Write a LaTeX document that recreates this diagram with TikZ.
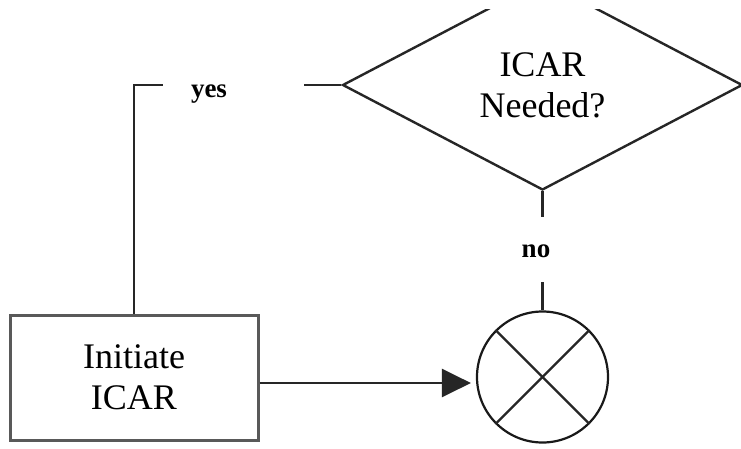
\documentclass[tikz,border=0pt]{standalone}
\usepackage{fontspec}
\setmainfont{Liberation Serif}
\usetikzlibrary{shapes.geometric,arrows.meta}
\begin{document}
\begin{tikzpicture}[x=1pt,y=-1pt,
  line/.style={line width=2.4pt,draw=black!85},
  decision/.style={diamond,draw=black!85,line width=2.4pt,minimum width=400pt,
    minimum height=210pt,inner sep=0pt,font=\fontsize{36}{41}\selectfont,align=center},
  process/.style={rectangle,draw=black!65,line width=3pt,minimum width=248pt,
    minimum height=125pt,font=\fontsize{36}{41}\selectfont,align=center},
  junction/.style={circle,draw=black!90,line width=2.2pt,minimum size=131pt,inner sep=0pt},
  lbl/.style={font=\bfseries\fontsize{27}{31}\selectfont,inner sep=0pt,anchor=base}]
\useasboundingbox (0,0) rectangle (741,448);
\fill[white] (0,0) rectangle (741,448);

% decision diamond, running off the top and right edges
\begin{scope}
  \clip (0,9) rectangle (741,448);
  \node[decision] (dec) at (542.5,85) {ICAR\\Needed?};
\end{scope}

% process box and merge junction
\node[process] (init) at (134,377.5) {Initiate\\ICAR};
\node[junction] (merge) at (542.5,377) {};
\draw[line] (merge.north west) -- (merge.south east);
\draw[line] (merge.north east) -- (merge.south west);

% "yes" branch
\node[lbl] (yes) at (209,97) {yes};
\coordinate (yesL) at (163,85);
\coordinate (yesR) at (304,85);
\draw[line] (init.north) |- (yesL);
\draw[line] (yesR) -- (dec.west);

% "no" branch
\node[lbl] (no) at (536,257) {no};
\coordinate (noT) at (542.5,217);
\coordinate (noB) at (542.5,282);
\draw[line] (dec.south) -- (noT);
\draw[line] (noB) -- (merge.north);

% box to junction
\draw[line,-{Triangle[length=29pt,width=28pt]}]
  ([yshift=-5.5pt]init.east) -- ([shift={(-5pt,-6pt)}]merge.west);
\end{tikzpicture}
\end{document}
